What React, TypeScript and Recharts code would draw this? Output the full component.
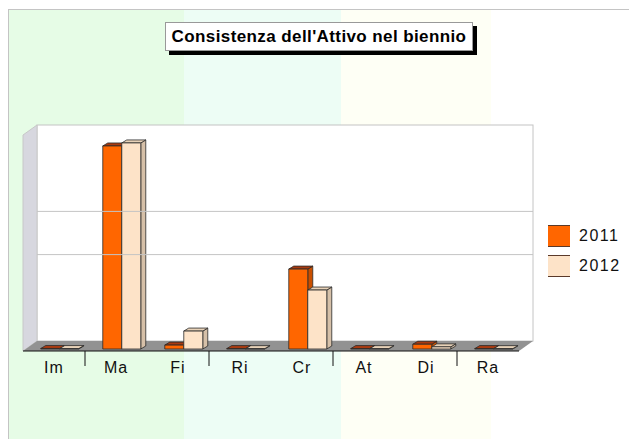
import { BarChart, Bar, XAxis, YAxis, ReferenceArea, ReferenceLine } from 'recharts'

const categories = ['Im', 'Ma', 'Fi', 'Ri', 'Cr', 'At', 'Di', 'Ra']
const values2011 = [12, 4700, 90, 10, 1850, 10, 110, 10]
const values2012 = [10, 4770, 415, 8, 1365, 8, 50, 8]
const gridValues = [2000, 3000]
const yDomain = [0, 5000]
const seriesNames = ['2011', '2012']

const data = categories.map((c, i) => ({ cat: c, y2011: values2011[i], y2012: values2012[i] }))

// 3d offsets: back wall depth, bar plane shift, bar thickness
const DX = 14, DY = -10
const BX = 6, BY = -2
const BD = 5, BDY = -3

const font = '"Liberation Sans", Arial, sans-serif'

function bar3d(front: string, top: string, side: string) {
    return (p: any) => {
        const w = p.width
        const x = p.x + BX
        const h = Math.max(p.height, 0)
        const y = p.y + BY
        return (
            <g stroke="#2a2a2a" strokeWidth={0.8} strokeLinejoin="round">
                <polygon points={`${x + w},${y} ${x + w + BD},${y + BDY} ${x + w + BD},${y + h + BDY} ${x + w},${y + h}`} fill={side} />
                <polygon points={`${x},${y} ${x + BD},${y + BDY} ${x + w + BD},${y + BDY} ${x + w},${y}`} fill={top} />
                <rect x={x} y={y} width={w} height={h} fill={front} />
            </g>
        )
    }
}

const walls = (p: any) => {
    const { x, y, width: w, height: h } = p
    const b = y + h
    return (
        <g>
            <rect x={x + DX} y={y + DY} width={w} height={h} fill="#ffffff" stroke="#c4c4c4" strokeWidth={1} />
            <polygon points={`${x},${y} ${x + DX},${y + DY} ${x + DX},${b + DY} ${x},${b}`} fill="#d7d7df" stroke="#c8c8c8" strokeWidth={1} />
            <polygon points={`${x},${b} ${x + DX},${b + DY} ${x + w + DX},${b + DY} ${x + w},${b}`} fill="#929292" />
        </g>
    )
}

const gridShape = (p: any) => (
    <line x1={p.x1 + DX} y1={p.y1 + DY} x2={p.x2 + DX} y2={p.y2 + DY} stroke="#c4c4c4" strokeWidth={1} />
)

const Tick = (p: any) => {
    const { x, y, payload, index } = p
    const half = payload?.offset ?? 31
    return (
        <g>
            <text x={x} y={y + 22} textAnchor="middle" fontSize={16} letterSpacing={1} fontFamily={font} fill="#111">
                {payload.value}
            </text>
            {index % 2 === 0 && index < categories.length - 1 && (
                <line x1={x + half} y1={y} x2={x + half} y2={y + 15} stroke="#111" strokeWidth={1} />
            )}
        </g>
    )
}

const legendColors = ['#ff6600', '#fde3c8']

export default function App() {
    return (
        <div style={{ position: 'fixed', left: 0, top: 0, width: 629, height: 439, background: '#fff', overflow: 'hidden' }}>
            <div style={{
                position: 'absolute', left: 8, top: 9, width: 621, height: 430,
                borderLeft: '1px solid #c4c4c4', borderTop: '1px solid #c4c4c4',
                background: 'linear-gradient(to right, #e6fce6 0px, #e6fce6 175px, #edfdf5 175px, #edfdf5 332px, #fefff5 332px, #fefff5 482px, #ffffff 482px)',
            }} />
            <div style={{
                position: 'absolute', left: 165, top: 22, width: 306, height: 27,
                background: '#fff', border: '1px solid #999', boxShadow: '4px 4px 0 #000',
                fontFamily: font, fontWeight: 'bold', fontSize: 17, letterSpacing: 0.4, lineHeight: '27px',
                textAlign: 'center', color: '#000', whiteSpace: 'nowrap',
            }}>
                Consistenza dell'Attivo nel biennio
            </div>
            <div style={{ position: 'absolute', left: 0, top: 0 }}>
                <BarChart width={629} height={439} data={data}
                    margin={{ top: 135, right: 110, bottom: 58, left: 23 }}
                    barCategoryGap="19%" barGap={0}>
                    <YAxis hide type="number" domain={yDomain} />
                    <XAxis dataKey="cat" height={30} tickSize={0} tickMargin={0} tickLine={false}
                        axisLine={{ stroke: '#111', strokeWidth: 1 }} tick={<Tick />} interval={0} />
                    <ReferenceArea y1={yDomain[0]} y2={yDomain[1]} shape={walls} ifOverflow="visible" />
                    {gridValues.map(v => (
                        <ReferenceLine key={v} y={v} shape={gridShape} ifOverflow="visible" />
                    ))}
                    <Bar dataKey="y2011" name={seriesNames[0]} isAnimationActive={false}
                        shape={bar3d('#ff6600', '#a83a10', '#c94f00')} />
                    <Bar dataKey="y2012" name={seriesNames[1]} isAnimationActive={false}
                        shape={bar3d('#fde3c8', '#e8d2b8', '#d6c0a8')} />
                </BarChart>
            </div>
            {seriesNames.map((n, i) => (
                <div key={n} style={{ position: 'absolute', left: 548, top: 225 + i * 30, height: 22, display: 'flex', alignItems: 'center' }}>
                    <div style={{
                        width: 22, height: 20, background: legendColors[i],
                        borderTop: '1px solid #5a3a2a', borderBottom: '1px solid #5a3a2a',
                    }} />
                    <span style={{ marginLeft: 9, fontFamily: font, fontSize: 16, letterSpacing: 1.5, color: '#111' }}>{n}</span>
                </div>
            ))}
        </div>
    )
}
